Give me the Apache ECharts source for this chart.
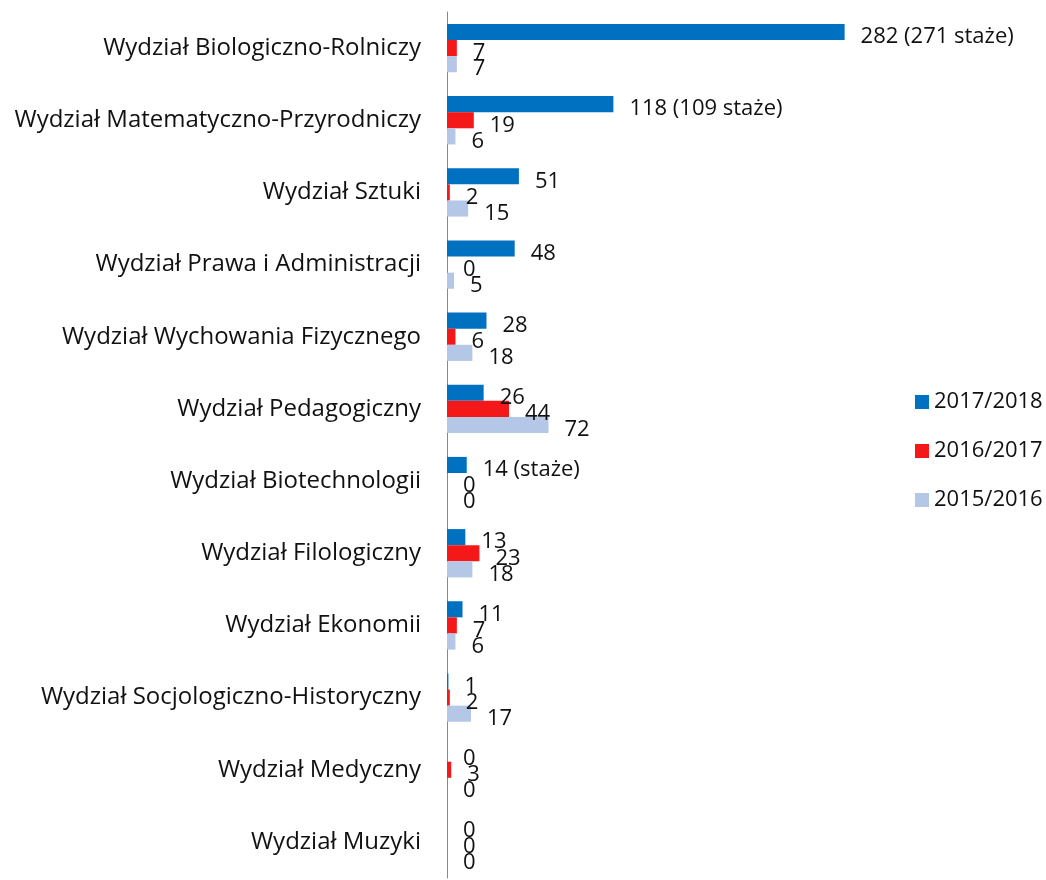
<!DOCTYPE html>
<html lang="pl">
<head>
    <meta charset="utf-8">
    <title>ECharts</title>
    <script src="https://cdn.jsdelivr.net/npm/echarts@6/dist/echarts.min.js"></script>
    <style>
        html, body {margin: 0; padding: 0; background: #fff;}
        #main {width: 1046px; height: 880px;}
    </style>
</head>
<body>
<div id="main"></div>
<script type="text/javascript">
    // kategorie (od góry)
    var wydzialy = [
        'Wydział Biologiczno-Rolniczy',
        'Wydział Matematyczno-Przyrodniczy',
        'Wydział Sztuki',
        'Wydział Prawa i Administracji',
        'Wydział Wychowania Fizycznego',
        'Wydział Pedagogiczny',
        'Wydział Biotechnologii',
        'Wydział Filologiczny',
        'Wydział Ekonomii',
        'Wydział Socjologiczno-Historyczny',
        'Wydział Medyczny',
        'Wydział Muzyki'
    ];
    var lata = ['2017/2018', '2016/2017', '2015/2016'];
    var dane2017 = [282, 118, 51, 48, 28, 26, 14, 13, 11, 1, 0, 0];
    var dane2016 = [7, 19, 2, 0, 6, 44, 0, 23, 7, 2, 3, 0];
    var dane2015 = [7, 6, 15, 5, 18, 72, 0, 18, 6, 17, 0, 0];
    // dopiski przy etykietach 2017/2018
    var dopiski = ['282 (271 staże)', '118 (109 staże)', '', '', '', '', '14 (staże)', '', '', '', '', ''];

    var kolory = ['#0070C0', '#F41818', '#B4C7E7'];
    var font = 'Open Sans';

    var myChart = echarts.init(document.getElementById('main'));

    function seria(nazwa, dane, kolor, formatter) {
        return {
            name: nazwa,
            type: 'bar',
            data: dane,
            barGap: '0%',
            barCategoryGap: '33%',
            itemStyle: {color: kolor},
            label: {
                show: true,
                position: 'right',
                distance: 16,
                offset: [0, 5],
                color: '#111',
                fontFamily: font,
                fontSize: 22,
                formatter: formatter || '{c}'
            }
        };
    }

    var option = {
        animation: false,
        color: kolory,
        legend: {
            orient: 'vertical',
            left: 910,
            top: 386,
            icon: 'rect',
            itemWidth: 14,
            itemHeight: 14,
            itemGap: 27,
            data: lata,
            textStyle: {fontFamily: font, fontSize: 22, color: '#111'}
        },
        grid: {
            left: 447,
            right: 176,
            top: 12,
            bottom: 2
        },
        xAxis: {
            type: 'value',
            min: 0,
            max: 300,
            show: false
        },
        yAxis: {
            type: 'category',
            inverse: true,
            data: wydzialy,
            axisLine: {show: true, lineStyle: {color: '#888', width: 1}},
            axisTick: {show: false},
            axisLabel: {
                margin: 26,
                color: '#111',
                fontFamily: font,
                fontSize: 24
            }
        },
        series: [
            seria(lata[0], dane2017, kolory[0], function (p) {
                return dopiski[p.dataIndex] || String(p.value);
            }),
            seria(lata[1], dane2016, kolory[1]),
            seria(lata[2], dane2015, kolory[2])
        ]
    };
    myChart.setOption(option);
</script>
</body>
</html>
